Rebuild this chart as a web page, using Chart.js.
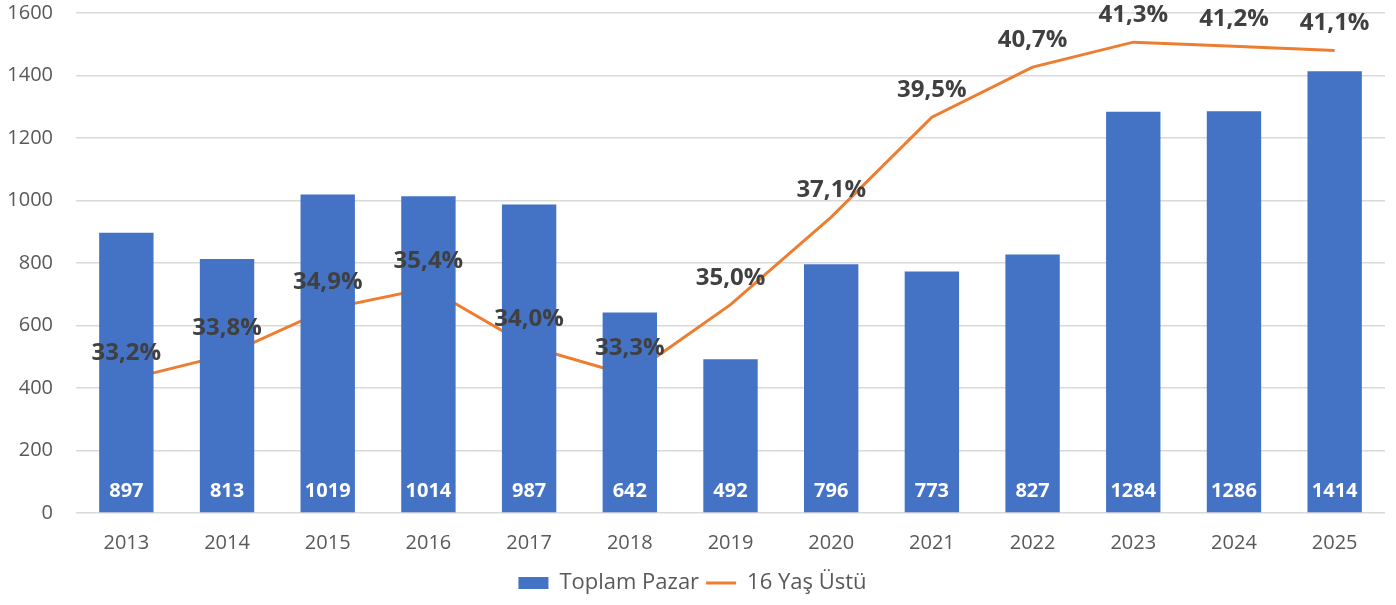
<!DOCTYPE html>
<html>
<head>
<meta charset="utf-8">
<script src="https://cdn.jsdelivr.net/npm/chart.js@4/dist/chart.umd.min.js"></script>
<style>
  html, body { margin: 0; padding: 0; background: #fff; }
  #wrap { width: 1396px; height: 605px; }
</style>
</head>
<body>
<div id="wrap"><canvas id="chart"></canvas></div>
<script>
const years = ['2013', '2014', '2015', '2016', '2017', '2018', '2019', '2020', '2021', '2022', '2023', '2024', '2025'];
const toplamPazar = [897, 813, 1019, 1014, 987, 642, 492, 796, 773, 827, 1284, 1286, 1414];
const yasUstu16 = [33.2, 33.8, 34.9, 35.4, 34.0, 33.3, 35.0, 37.1, 39.5, 40.7, 41.3, 41.2, 41.1];
const yTicks = [0, 200, 400, 600, 800, 1000, 1200, 1400, 1600];

const FONT = "'Open Sans', sans-serif";

// value labels: white inside the bar bottoms, dark above the line points
const valueLabels = {
    id: 'valueLabels',
    afterDatasetsDraw(chart) {
        const ctx = chart.ctx;
        ctx.save();
        ctx.textAlign = 'center';
        ctx.textBaseline = 'middle';

        const bars = chart.getDatasetMeta(0).data;
        ctx.font = 'bold 20px ' + FONT;
        ctx.fillStyle = '#ffffff';
        bars.forEach((bar, i) => {
            ctx.fillText(String(toplamPazar[i]), bar.x, bar.base - 21);
        });

        const pts = chart.getDatasetMeta(1).data;
        ctx.font = 'bold 24px ' + FONT;
        ctx.fillStyle = '#404040';
        pts.forEach((p, i) => {
            ctx.fillText(yasUstu16[i].toFixed(1).replace('.', ',') + '%', p.x, p.y - 27);
        });
        ctx.restore();
    }
};

new Chart(document.getElementById('chart'), {
    data: {
        labels: years,
        datasets: [
            {
                type: 'bar',
                label: 'Toplam Pazar',
                data: toplamPazar,
                backgroundColor: '#4472C4',
                categoryPercentage: 1,
                barPercentage: 0.54,
                yAxisID: 'y',
                pointStyle: 'rect'
            },
            {
                type: 'line',
                label: '16 Yaş Üstü',
                data: yasUstu16,
                borderColor: '#ED7D31',
                backgroundColor: '#ED7D31',
                borderWidth: 3,
                pointRadius: 0,
                tension: 0,
                fill: false,
                yAxisID: 'y1',
                pointStyle: 'line'
            }
        ]
    },
    options: {
        responsive: true,
        maintainAspectRatio: false,
        animation: false,
        layout: { padding: { top: 13, right: 11, left: 0, bottom: 1 } },
        plugins: {
            tooltip: { enabled: false },
            legend: {
                position: 'bottom',
                labels: {
                    usePointStyle: true,
                    pointStyleWidth: 30,
                    boxHeight: 12,
                    padding: 7,
                    color: '#595959',
                    font: { family: FONT, size: 22 }
                }
            }
        },
        scales: {
            x: {
                grid: { display: false },
                border: { display: false },
                ticks: {
                    color: '#595959',
                    font: { family: FONT, size: 20 },
                    padding: 10
                }
            },
            y: {
                min: 0,
                max: 1600,
                afterBuildTicks(axis) {
                    axis.ticks = yTicks.map(v => ({ value: v }));
                },
                afterFit(axis) {
                    axis.width = 76;
                    axis.paddingTop = 0;
                    axis.paddingBottom = 0;
                },
                grid: { color: '#D9D9D9', lineWidth: 1.5, drawTicks: false },
                border: { display: false },
                ticks: {
                    color: '#595959',
                    font: { family: FONT, size: 20 },
                    padding: 23,
                    callback: v => String(v)
                }
            },
            y1: {
                display: false,
                min: 30,
                max: 42
            }
        }
    },
    plugins: [valueLabels]
});
</script>
</body>
</html>
